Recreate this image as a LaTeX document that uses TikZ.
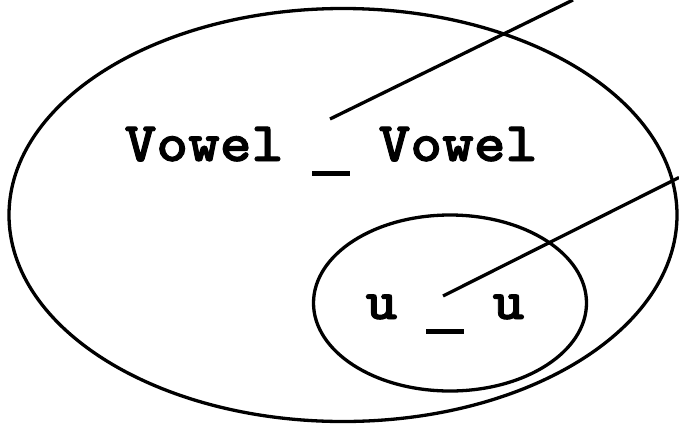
\documentclass[tikz,border=0pt]{standalone}
\usepackage{fontspec}
\newfontfamily\slabmono{lmmonolt10-bold.otf}[FakeBold=1.6]
\usetikzlibrary{shapes.geometric}
% a wide underscore set below the baseline, one character cell wide
\newcommand{\lowbar}{\makebox[0.525em][c]{\rule[-0.27em]{0.62em}{0.1em}}}
\begin{document}
\begin{tikzpicture}[x=1pt,y=-1pt,
  setring/.style={draw=black, line width=3.3pt, ellipse, inner sep=0pt, outer sep=0pt},
  pattern/.style={anchor=base, inner sep=0pt, font=\slabmono\fontsize{56}{56}\selectfont, xscale=1.08},
  pointer/.style={draw=black, line width=3.3pt}]
  \useasboundingbox (0,0) rectangle (679,426);
  % outer set and the subset inside it
  \node[setring, minimum width=668pt, minimum height=413pt] (outer) at (343,215) {};
  \node[setring, minimum width=273pt, minimum height=176pt] (inner) at (450,303) {};
  % environment labels
  \node[pattern] (vv) at (331,161) {Vowel \lowbar{} Vowel};
  \node[pattern] (uu) at (445,319) {u \lowbar{} u};
  % leader lines running off the top and right edges
  \coordinate (vvtip) at (330,119);
  \coordinate (vvend) at (573,0);
  \coordinate (uutip) at (443,296);
  \coordinate (uuend) at (679,177.5);
  \draw[pointer] (vvtip) -- (vvend);
  \draw[pointer] (uutip) -- (uuend);
\end{tikzpicture}
\end{document}
